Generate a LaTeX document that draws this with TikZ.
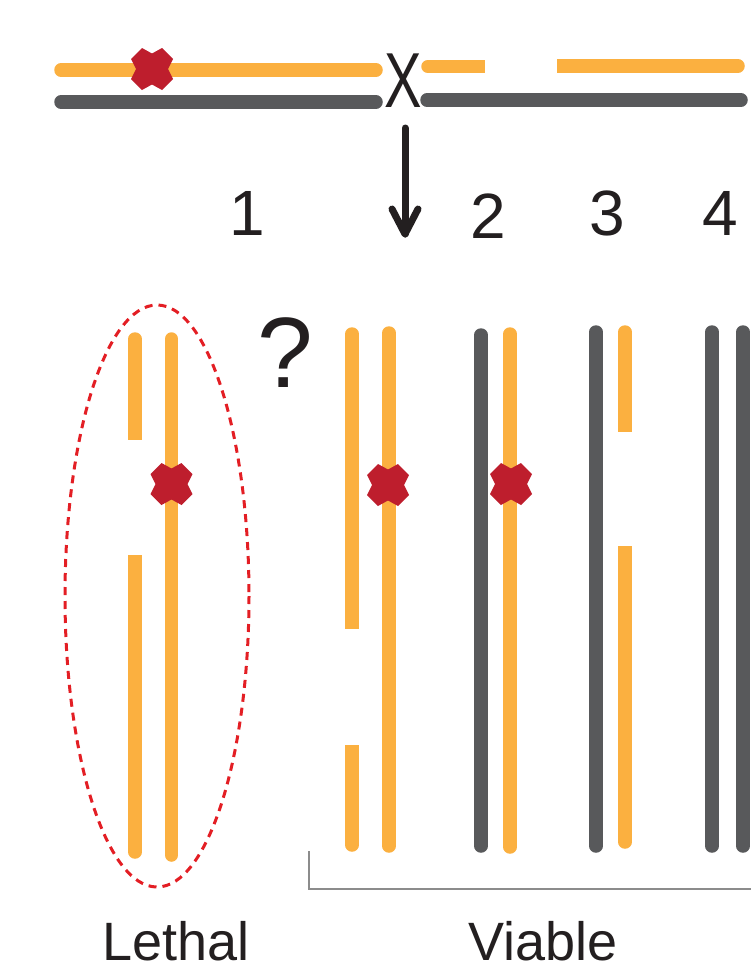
\documentclass[tikz,border=0pt]{standalone}
\usepackage{fontspec}
\setmainfont{Liberation Sans}
\definecolor{orch}{HTML}{FBB040}
\definecolor{grch}{HTML}{58595B}
\definecolor{mutred}{HTML}{BE1E2D}
\definecolor{ellred}{HTML}{E31E24}
\definecolor{brgray}{HTML}{8C8C8C}
\definecolor{txt}{HTML}{231F20}
\tikzset{
  ch/.style={line width=13.5pt},
  och/.style={ch, draw=orch},
  gch/.style={ch, draw=grch},
  rnd/.style={line cap=round},
  mut/.pic={\fill[mutred] (-21,-10) -- (-10,-21) -- (0,-15.5) -- (10,-21) -- (21,-10) -- (16,0) -- (21,10) -- (10,21) -- (0,15.5) -- (-10,21) -- (-21,10) -- (-16,0) -- cycle;},
  num/.style={text=txt, anchor=base, inner sep=0pt, font=\fontsize{64}{70}\selectfont},
  lab/.style={text=txt, anchor=base, inner sep=0pt, font=\fontsize{54}{60}\selectfont},
  arr/.style={txt, line width=7pt, line cap=round, line join=round},
}
\begin{document}
\begin{tikzpicture}[x=1pt,y=-1pt]
\useasboundingbox (0,0) rectangle (750,972);
% ---- top chromosomes
\draw[och,rnd] (61,70) -- (376,70);
\draw[gch,rnd] (61,102) -- (376,102);
\pic (m0) at (152,69) {mut};
\node[text=txt, anchor=base, inner sep=0pt, font=\fontsize{78}{80}\selectfont, xscale=0.72] (xo) at (403,107) {X};
\draw[och,rnd] (428,66.5) -- (470,66.5);
\draw[och] (465,66.5) -- (485,66.5);
\draw[och] (557,66) -- (600,66);
\draw[och,rnd] (595,66) -- (738,66);
\draw[gch,rnd] (427,100) -- (741,100);
% ---- arrow
\coordinate (a0) at (405,128);
\coordinate (a1) at (405,234);
\draw[arr] (a0) -- (a1);
\draw[arr] (392,209) -- (a1) -- (418,209);
% ---- numbers
\node[num] (n1) at (247,235) {1};
\node[num] (n2) at (488,238) {2};
\node[num] (n3) at (607,235) {3};
\node[num] (n4) at (720,235) {4};
\node[text=txt, anchor=base, inner sep=0pt, font=\fontsize{100}{100}\selectfont] (q) at (285,387) {?};
% ---- lethal
\draw[ellred, line width=3pt, dash pattern=on 8pt off 6pt] (157,596) ellipse [x radius=92, y radius=291];
\draw[och,rnd] (135,339) -- (135,420);
\draw[och] (135,415) -- (135,440);
\draw[och] (135,555) -- (135,600);
\draw[och,rnd] (135,595) -- (135,852);
\draw[och,rnd] (171.5,339) -- (171.5,855);
\pic (m1) at (171.5,484) {mut};
% ---- viable pair 1
\draw[och,rnd] (352,334) -- (352,600);
\draw[och] (352,595) -- (352,629);
\draw[och] (352,745) -- (352,780);
\draw[och,rnd] (352,775) -- (352,845);
\draw[och,rnd] (389,333) -- (389,846);
\pic (m2) at (388,485) {mut};
% ---- pair 2
\draw[gch,rnd] (481,335) -- (481,846);
\draw[och,rnd] (510,334) -- (510,847);
\pic (m3) at (511,484) {mut};
% ---- pair 3
\draw[gch,rnd] (596,332) -- (596,846);
\draw[och,rnd] (625,332) -- (625,410);
\draw[och] (625,405) -- (625,432);
\draw[och] (625,546) -- (625,580);
\draw[och,rnd] (625,575) -- (625,842);
% ---- pair 4
\draw[gch,rnd] (712,332) -- (712,846);
\draw[gch,rnd] (743,332) -- (743,846);
% ---- bracket and labels
\coordinate (b0) at (309,851);
\coordinate (b1) at (309,889);
\coordinate (b2) at (752,889);
\draw[brgray, line width=2pt] (b0) -- (b1) -- (b2);
\node[lab] (leth) at (176,960) {Lethal};
\node[lab] (viab) at (543,960) {Viable};
\end{tikzpicture}
\end{document}
